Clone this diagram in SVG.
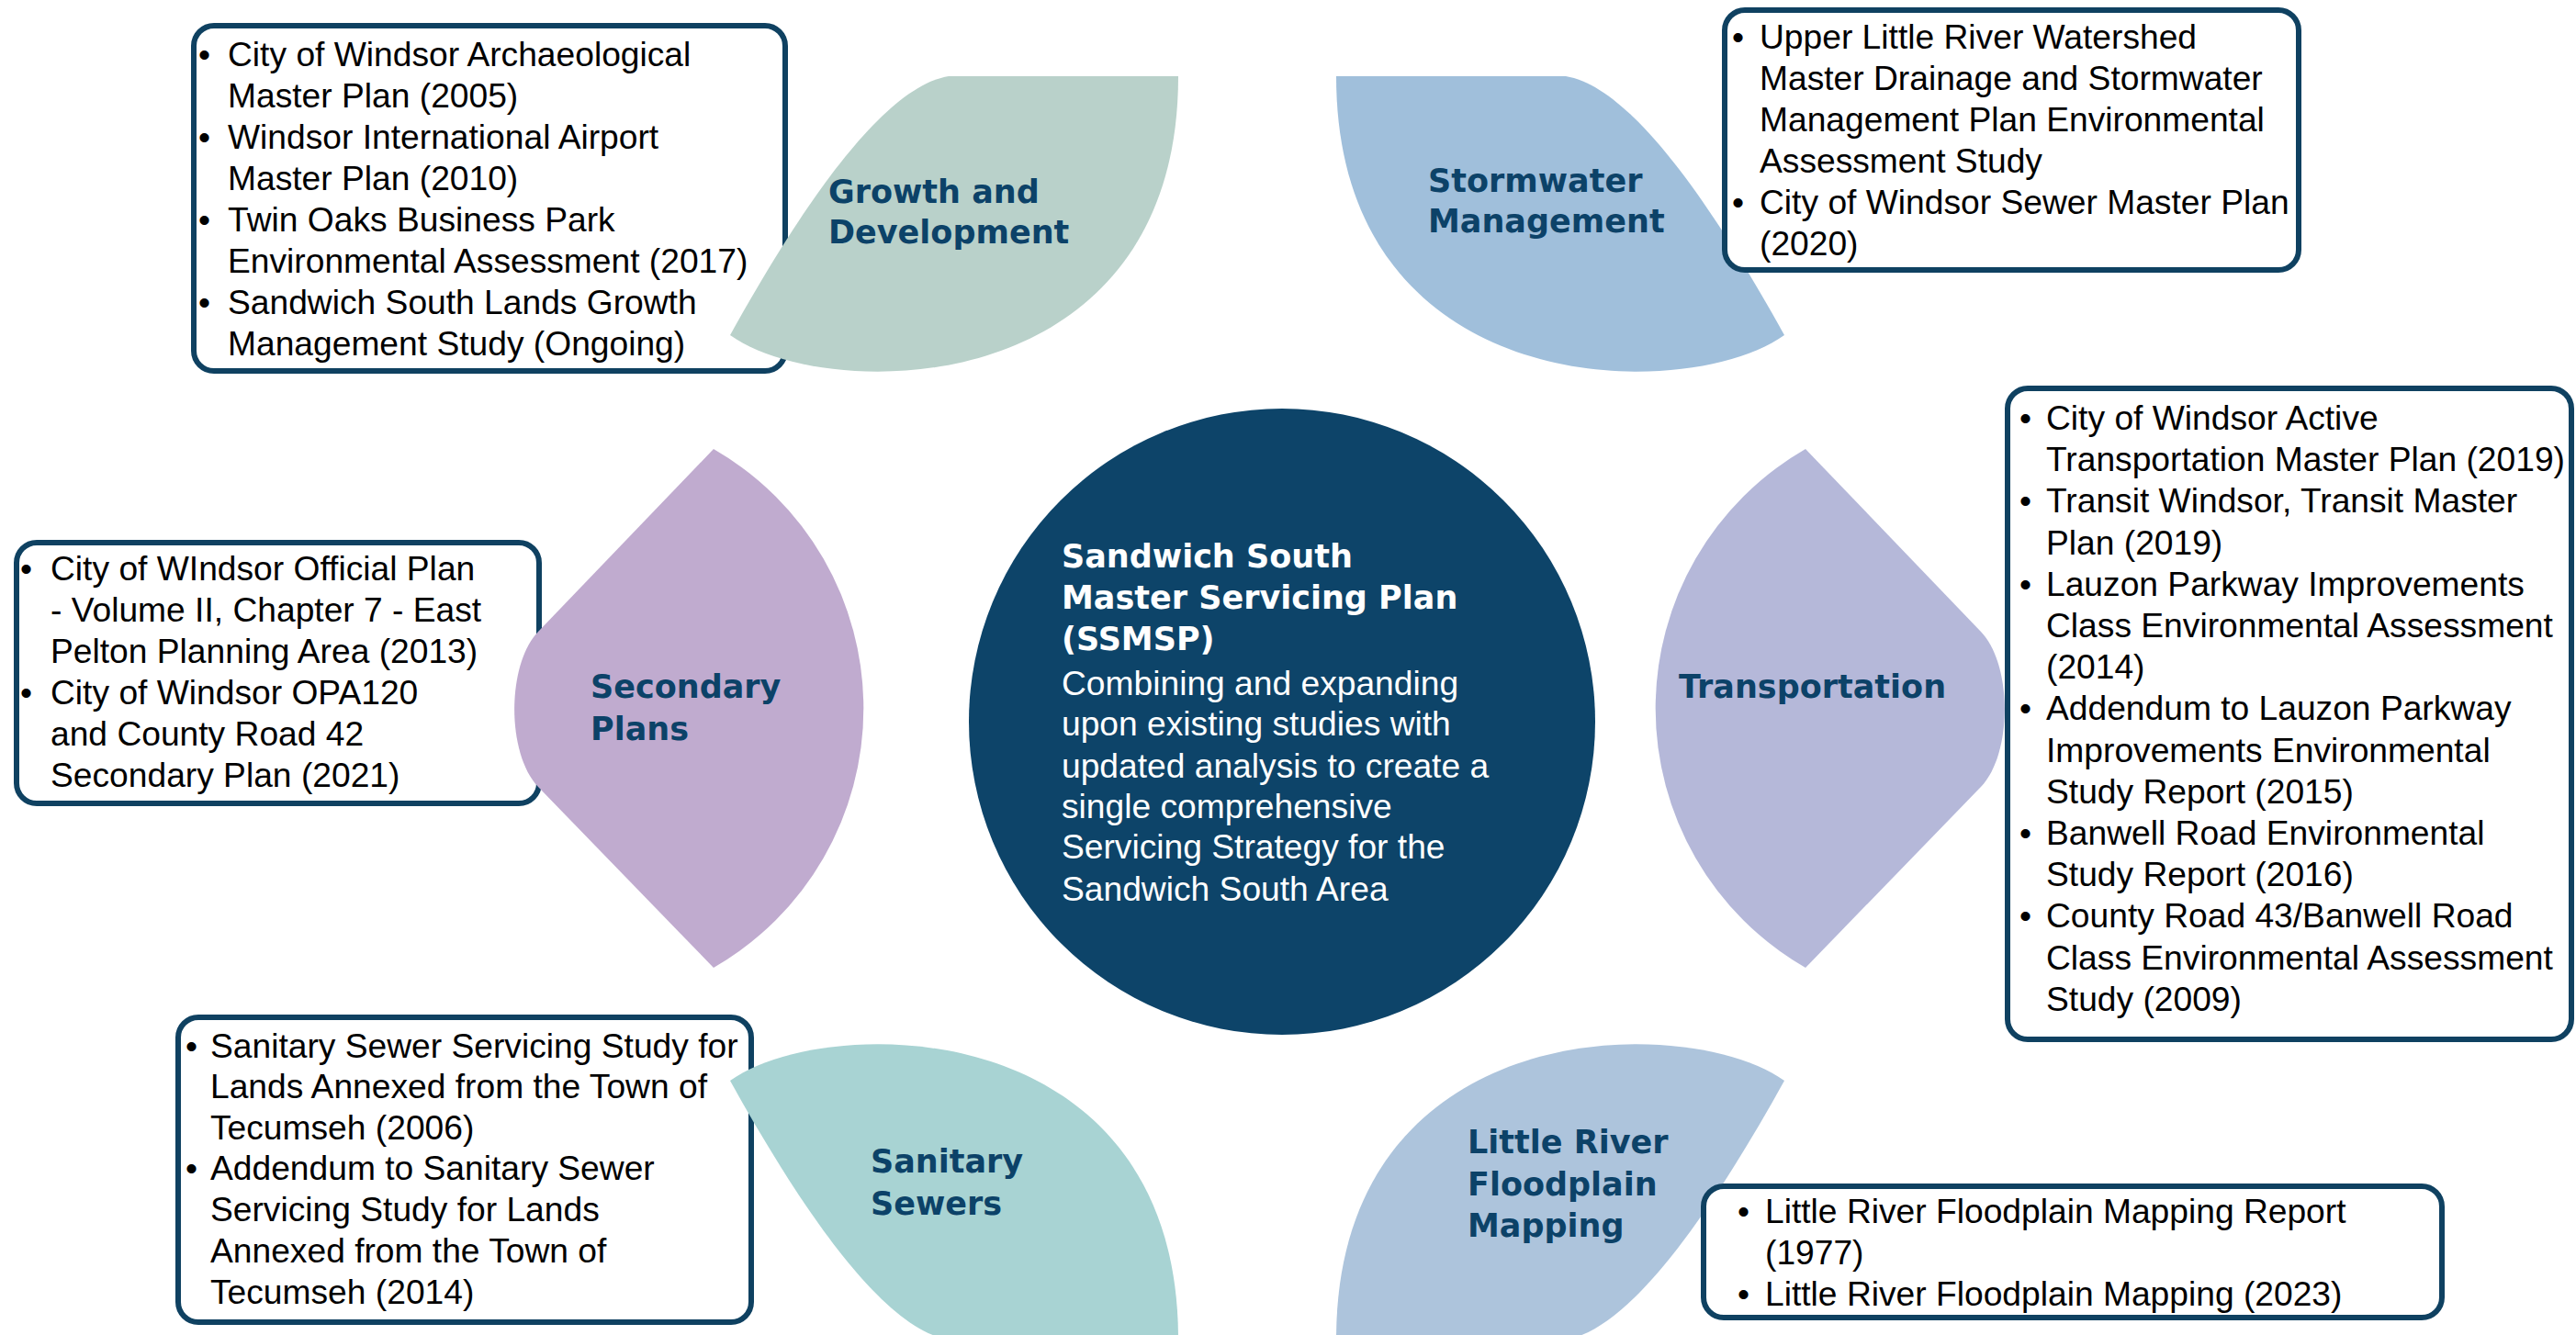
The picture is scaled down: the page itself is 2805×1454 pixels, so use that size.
<svg xmlns="http://www.w3.org/2000/svg" width="2805" height="1454" viewBox="0 0 2805 1454">
  <style>
    .box { fill: #ffffff; stroke: #0f4161; stroke-width: 6; }
    .item { font-family: "Liberation Sans", Arial, sans-serif; font-size: 37.2px; fill: #000000; }
    .label { font-family: "DejaVu Sans", "Noto Sans", sans-serif; font-weight: 700; font-size: 35px; fill: #0c4268; }
    .hub { fill: #0d4469; }
    .hub-title { font-family: "DejaVu Sans", "Noto Sans", sans-serif; font-weight: 700; font-size: 35px; fill: #ffffff; }
    .hub-body { font-family: "Liberation Sans", Arial, sans-serif; font-size: 37.2px; fill: #ffffff; }
  </style>

  <rect width="2805" height="1454" fill="#ffffff"/>

  <!-- reference lists on the left sit underneath their petals -->
  <g id="box-growth">
    <rect class="box" x="211" y="28" width="644" height="376" rx="22"/>
    <text class="item">
      <tspan x="216" y="71.5">•</tspan><tspan x="248" y="71.5">City of Windsor Archaeological</tspan>
      <tspan x="248" y="116.5">Master Plan (2005)</tspan>
      <tspan x="216" y="161.5">•</tspan><tspan x="248" y="161.5">Windsor International Airport</tspan>
      <tspan x="248" y="206.5">Master Plan (2010)</tspan>
      <tspan x="216" y="251.5">•</tspan><tspan x="248" y="251.5">Twin Oaks Business Park</tspan>
      <tspan x="248" y="296.5">Environmental Assessment (2017)</tspan>
      <tspan x="216" y="341.5">•</tspan><tspan x="248" y="341.5">Sandwich South Lands Growth</tspan>
      <tspan x="248" y="386.5">Management Study (Ongoing)</tspan>
    </text>
  </g>

  <g id="box-secondary">
    <rect class="box" x="18" y="591" width="569" height="284" rx="22"/>
    <text class="item">
      <tspan x="22" y="632">•</tspan><tspan x="55" y="632">City of WIndsor Official Plan</tspan>
      <tspan x="55" y="677">- Volume II, Chapter 7 - East</tspan>
      <tspan x="55" y="722">Pelton Planning Area (2013)</tspan>
      <tspan x="22" y="767">•</tspan><tspan x="55" y="767">City of Windsor OPA120</tspan>
      <tspan x="55" y="812">and County Road 42</tspan>
      <tspan x="55" y="857">Secondary Plan (2021)</tspan>
    </text>
  </g>

  <g id="box-sanitary">
    <rect class="box" x="194" y="1108" width="624" height="332" rx="22"/>
    <text class="item">
      <tspan x="202" y="1152">•</tspan><tspan x="229" y="1152">Sanitary Sewer Servicing Study for</tspan>
      <tspan x="229" y="1196">Lands Annexed from the Town of</tspan>
      <tspan x="229" y="1241">Tecumseh (2006)</tspan>
      <tspan x="202" y="1285">•</tspan><tspan x="229" y="1285">Addendum to Sanitary Sewer</tspan>
      <tspan x="229" y="1330">Servicing Study for Lands</tspan>
      <tspan x="229" y="1375">Annexed from the Town of</tspan>
      <tspan x="229" y="1420">Tecumseh (2014)</tspan>
    </text>
  </g>

  <!-- petals around the hub -->
  <g id="petal-growth">
    <path fill="#b9d1ca" d="M1283 83 L1033 83 C960 95 870 230 795 365 C900 440 1283 440 1283 83 Z"/>
    <text class="label"><tspan x="902" y="221">Growth and</tspan><tspan x="902" y="265">Development</tspan></text>
  </g>

  <g id="petal-stormwater">
    <path fill="#a0bfdb" d="M1455 83 L1705 83 C1778 95 1868 230 1943 365 C1838 440 1455 440 1455 83 Z"/>
    <text class="label"><tspan x="1555" y="209">Stormwater</tspan><tspan x="1555" y="253">Management</tspan></text>
  </g>

  <g id="petal-secondary">
    <path fill="#c0abcf" d="M777 489 A326 326 0 0 1 777 1054 L586 857 C551.5 821 551.5 724 586 688 Z"/>
    <text class="label"><tspan x="643" y="760">Secondary</tspan><tspan x="643" y="806">Plans</tspan></text>
  </g>

  <g id="petal-transportation">
    <path fill="#b5b8d9" d="M1966 489 A326 326 0 0 0 1966 1054 L2157 857 C2191.5 821 2191.5 724 2157 688 Z"/>
    <text class="label"><tspan x="1828" y="760">Transportation</tspan></text>
  </g>

  <g id="petal-sanitary">
    <path fill="#a8d3d3" d="M1283 1459 L1033 1459 C960 1447 870 1312 795 1177 C900 1102 1283 1102 1283 1459 Z"/>
    <text class="label"><tspan x="948" y="1277">Sanitary</tspan><tspan x="948" y="1323">Sewers</tspan></text>
  </g>

  <g id="petal-floodplain">
    <path fill="#adc4dc" d="M1455 1459 L1705 1459 C1778 1447 1868 1312 1943 1177 C1838 1102 1455 1102 1455 1459 Z"/>
    <text class="label"><tspan x="1598" y="1256">Little River</tspan><tspan x="1598" y="1302">Floodplain</tspan><tspan x="1598" y="1347">Mapping</tspan></text>
  </g>

  <!-- reference lists on the right sit above their petals -->
  <g id="box-stormwater">
    <rect class="box" x="1878" y="11" width="625" height="283" rx="22"/>
    <text class="item">
      <tspan x="1886" y="53">•</tspan><tspan x="1916" y="53">Upper Little River Watershed</tspan>
      <tspan x="1916" y="98">Master Drainage and Stormwater</tspan>
      <tspan x="1916" y="143">Management Plan Environmental</tspan>
      <tspan x="1916" y="188">Assessment Study</tspan>
      <tspan x="1886" y="233">•</tspan><tspan x="1916" y="233">City of Windsor Sewer Master Plan</tspan>
      <tspan x="1916" y="278">(2020)</tspan>
    </text>
  </g>

  <g id="box-transportation">
    <rect class="box" x="2186" y="423" width="614" height="709" rx="22"/>
    <text class="item">
      <tspan x="2199" y="468">•</tspan><tspan x="2228" y="468">City of Windsor Active</tspan>
      <tspan x="2228" y="513.2">Transportation Master Plan (2019)</tspan>
      <tspan x="2199" y="558.4">•</tspan><tspan x="2228" y="558.4">Transit Windsor, Transit Master</tspan>
      <tspan x="2228" y="603.6">Plan (2019)</tspan>
      <tspan x="2199" y="648.8">•</tspan><tspan x="2228" y="648.8">Lauzon Parkway Improvements</tspan>
      <tspan x="2228" y="694">Class Environmental Assessment</tspan>
      <tspan x="2228" y="739.2">(2014)</tspan>
      <tspan x="2199" y="784.4">•</tspan><tspan x="2228" y="784.4">Addendum to Lauzon Parkway</tspan>
      <tspan x="2228" y="829.6">Improvements Environmental</tspan>
      <tspan x="2228" y="874.8">Study Report (2015)</tspan>
      <tspan x="2199" y="920">•</tspan><tspan x="2228" y="920">Banwell Road Environmental</tspan>
      <tspan x="2228" y="965.2">Study Report (2016)</tspan>
      <tspan x="2199" y="1010.4">•</tspan><tspan x="2228" y="1010.4">County Road 43/Banwell Road</tspan>
      <tspan x="2228" y="1055.6">Class Environmental Assessment</tspan>
      <tspan x="2228" y="1100.8">Study (2009)</tspan>
    </text>
  </g>

  <g id="box-floodplain">
    <rect class="box" x="1855" y="1292" width="804" height="143" rx="22"/>
    <text class="item">
      <tspan x="1892" y="1332">•</tspan><tspan x="1922" y="1332">Little River Floodplain Mapping Report</tspan>
      <tspan x="1922" y="1377">(1977)</tspan>
      <tspan x="1892" y="1422">•</tspan><tspan x="1922" y="1422">Little River Floodplain Mapping (2023)</tspan>
    </text>
  </g>

  <!-- central hub -->
  <g id="hub-ssmsp">
    <circle class="hub" cx="1396" cy="786" r="341"/>
    <text class="hub-title">
      <tspan x="1156" y="618">Sandwich South</tspan>
      <tspan x="1156" y="663">Master Servicing Plan</tspan>
      <tspan x="1156" y="708">(SSMSP)</tspan>
    </text>
    <text class="hub-body">
      <tspan x="1156" y="757">Combining and expanding</tspan>
      <tspan x="1156" y="801">upon existing studies with</tspan>
      <tspan x="1156" y="847">updated analysis to create a</tspan>
      <tspan x="1156" y="891">single comprehensive</tspan>
      <tspan x="1156" y="935">Servicing Strategy for the</tspan>
      <tspan x="1156" y="981">Sandwich South Area</tspan>
    </text>
  </g>

  <g id="connectors"/>
</svg>
